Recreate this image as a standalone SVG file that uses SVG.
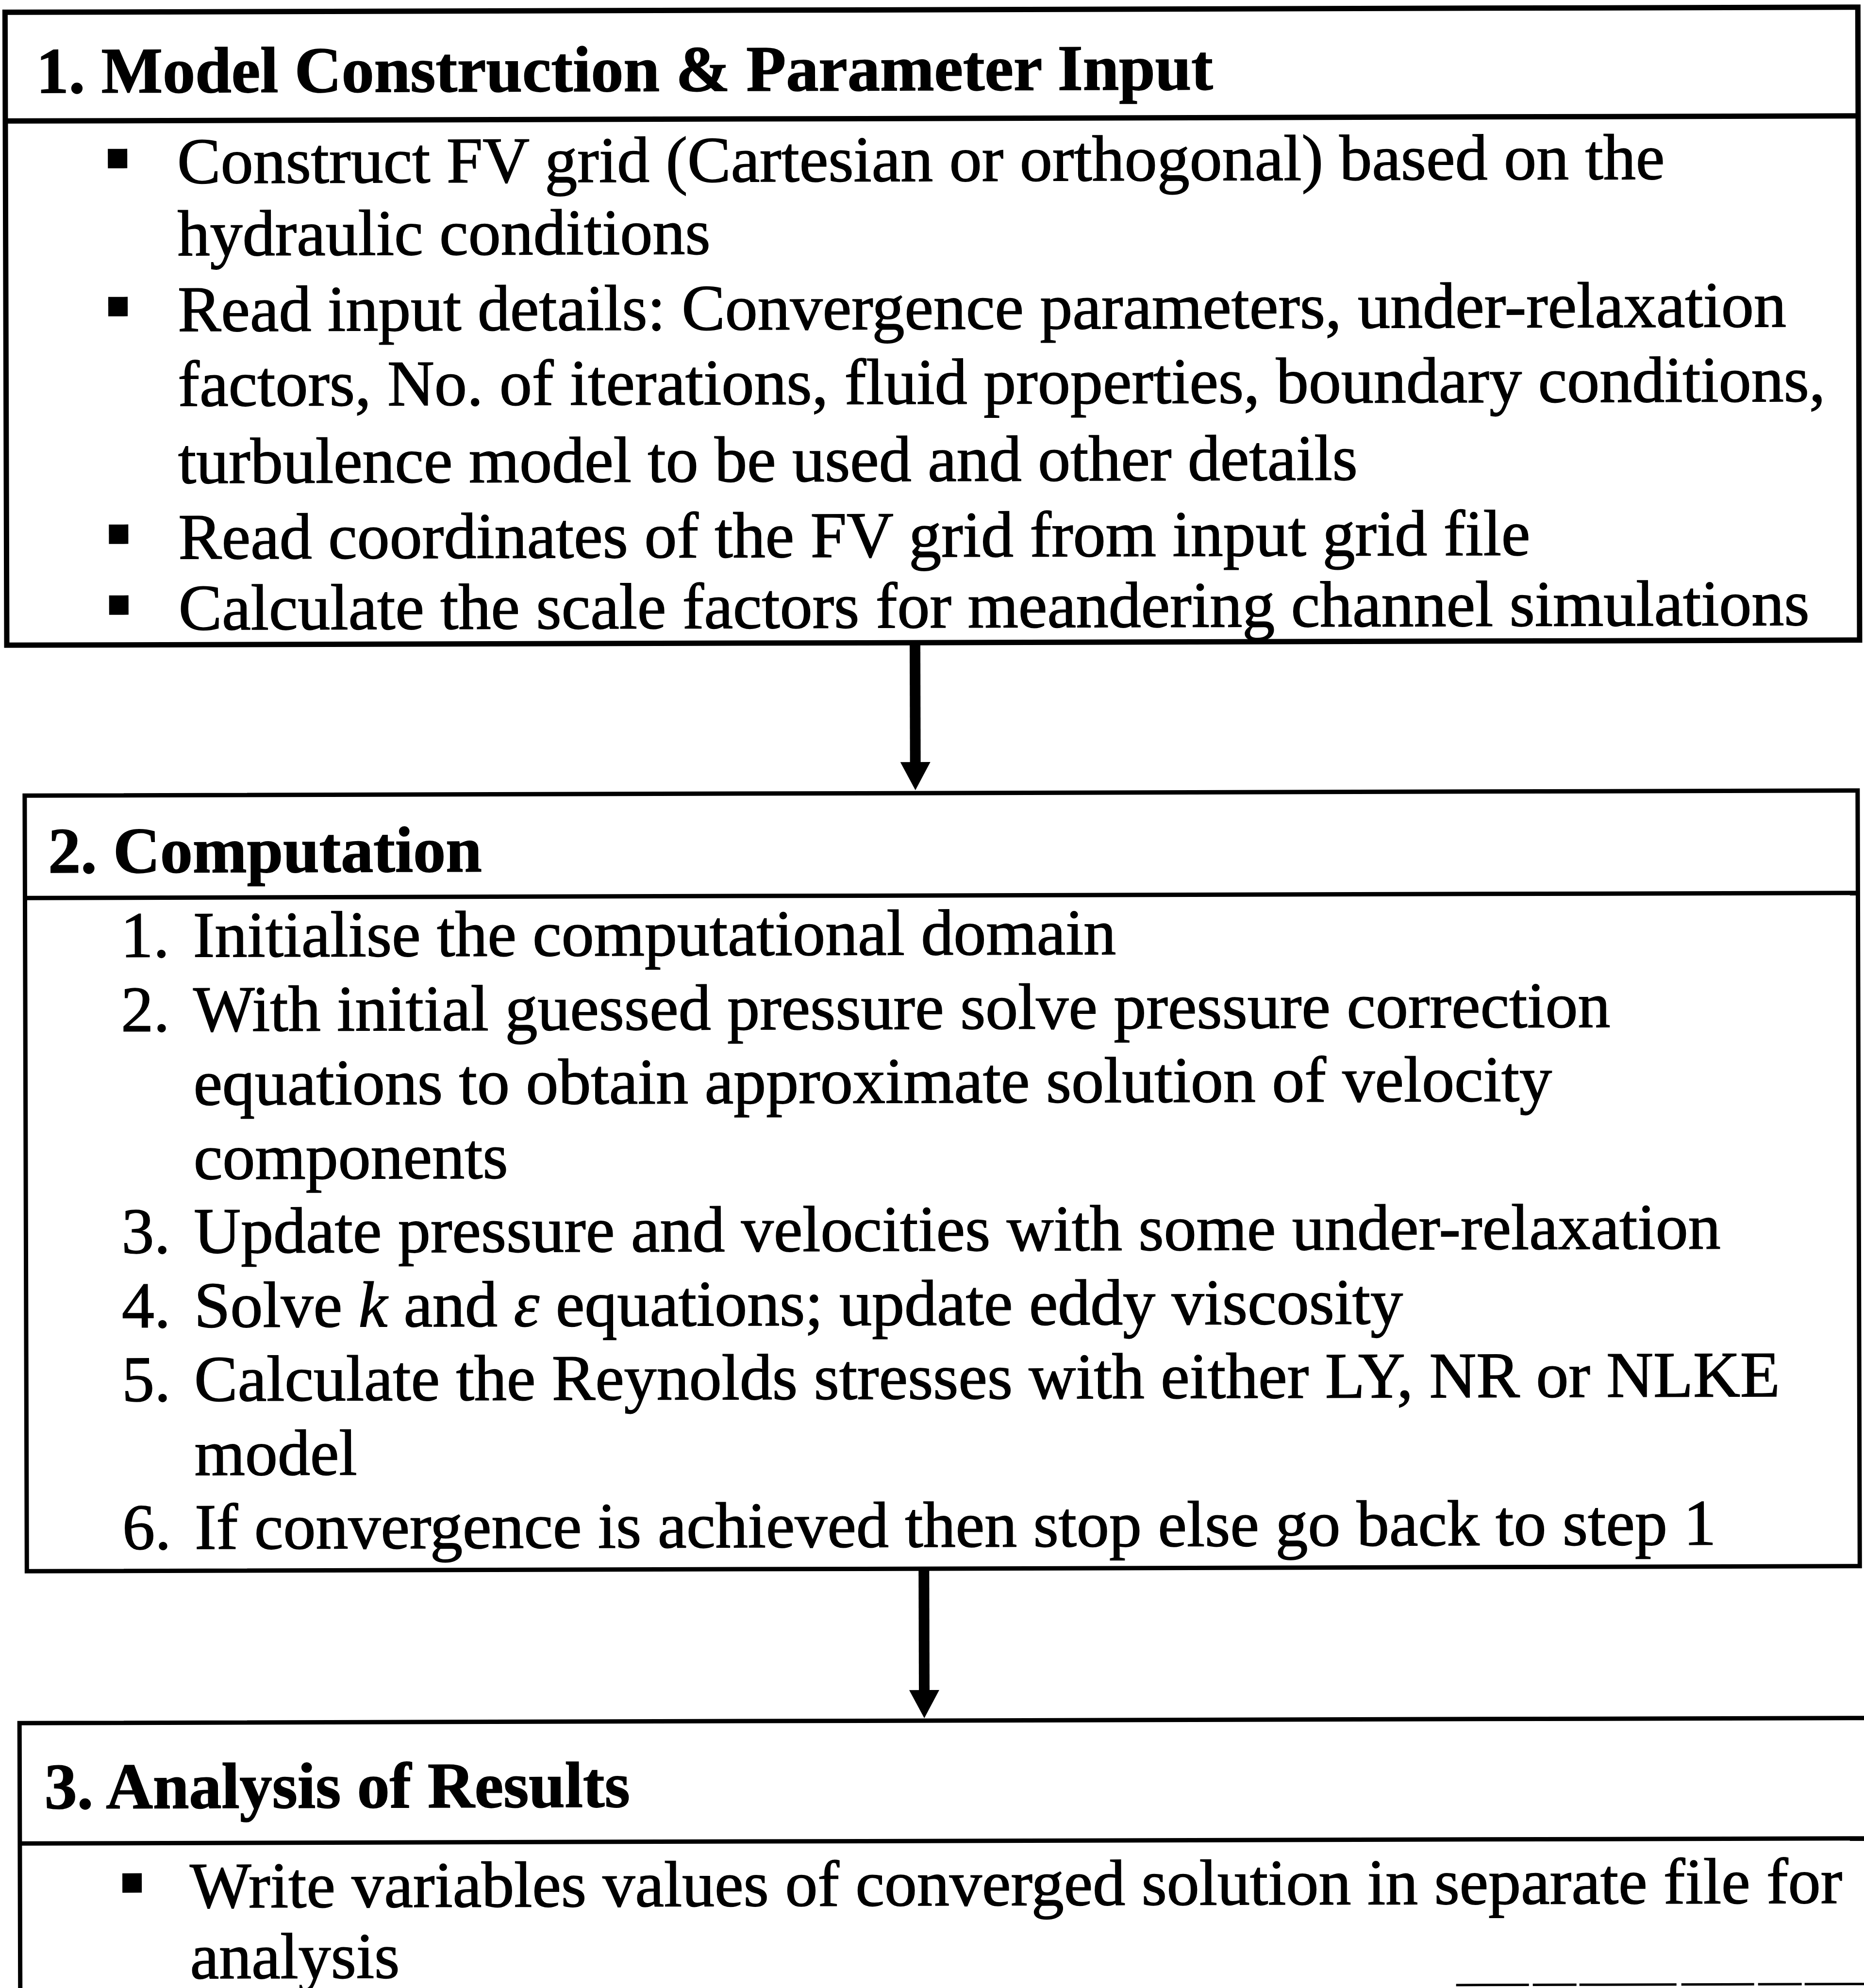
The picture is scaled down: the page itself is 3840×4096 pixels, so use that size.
<svg xmlns="http://www.w3.org/2000/svg" width="3840" height="4096" viewBox="0 0 3840 4096">
<style>
.box{fill:none;stroke:#000;stroke-linejoin:miter}
.b1{stroke-width:11}
.b2{stroke-width:9}
.t{font-family:"Liberation Serif","Times New Roman",serif;font-size:134px;fill:#000;stroke:#000;stroke-width:1.6}
.h{font-weight:bold}
.conn{stroke:#000;stroke-width:22;fill:none}
.bul{fill:#000}
</style>
<defs>
<marker id="ah" viewBox="0 0 58 62" refX="2" refY="31" markerWidth="58" markerHeight="62" markerUnits="userSpaceOnUse" orient="auto">
<path d="M0,0 L58,31 L0,62 z" fill="#000"/>
</marker>
</defs>
<rect width="3840" height="4096" fill="#fff"/>
<g transform="rotate(-0.16 1920 2048)">
<g id="node-1">
<rect class="box b1" x="16" y="20" width="3817" height="1304"/>
<line class="box b1" x1="16" y1="244" x2="3833" y2="244"/>
<text class="t h" x="80" y="186">1. Model Construction &amp; Parameter Input</text>
<rect class="bul" x="227" y="302" width="40" height="40"/>
<text class="t" x="370" y="373">Construct FV grid (Cartesian or orthogonal) based on the</text>
<text class="t" x="370" y="522">hydraulic conditions</text>
<rect class="bul" x="227" y="607" width="40" height="40"/>
<text class="t" x="370" y="678">Read input details: Convergence parameters, under-relaxation</text>
<text class="t" x="370" y="832">factors, No. of iterations, fluid properties, boundary conditions,</text>
<text class="t" x="370" y="991">turbulence model to be used and other details</text>
<rect class="bul" x="227" y="1076" width="40" height="40"/>
<text class="t" x="370" y="1147">Read coordinates of the FV grid from input grid file</text>
<rect class="bul" x="227" y="1222" width="40" height="40"/>
<text class="t" x="370" y="1293">Calculate the scale factors for meandering channel simulations</text>
</g>
<g id="node-2">
<rect class="box b2" x="52" y="1634" width="3776" height="1598"/>
<line class="box b2" x1="52" y1="1845" x2="3828" y2="1845"/>
<text class="t h" x="100" y="1793">2. Computation</text>
<text class="t" x="249" y="1967">1.</text><text class="t" x="398" y="1967">Initialise the computational domain</text>
<text class="t" x="249" y="2120">2.</text><text class="t" x="398" y="2120">With initial guessed pressure solve pressure correction</text>
<text class="t" x="398" y="2272">equations to obtain approximate solution of velocity</text>
<text class="t" x="398" y="2425">components</text>
<text class="t" x="249" y="2577">3.</text><text class="t" x="398" y="2577">Update pressure and velocities with some under-relaxation</text>
<text class="t" x="249" y="2730">4.</text><text class="t" x="398" y="2730">Solve <tspan font-style="italic">k</tspan> and <tspan font-style="italic">ε</tspan> equations; update eddy viscosity</text>
<text class="t" x="249" y="2882">5.</text><text class="t" x="398" y="2882">Calculate the Reynolds stresses with either LY, NR or NLKE</text>
<text class="t" x="398" y="3035">model</text>
<text class="t" x="249" y="3187">6.</text><text class="t" x="398" y="3187">If convergence is achieved then stop else go back to step 1</text>
</g>
<g id="node-3">
<path class="box b2" d="M3860,3545 L36,3545 L36,4120"/>
<line class="box b2" x1="36" y1="3793" x2="3860" y2="3793"/>
<text class="t h" x="87" y="3721">3. Analysis of Results</text>
<rect class="bul" x="247" y="3855" width="40" height="40"/>
<text class="t" x="386" y="3926">Write variables values of converged solution in separate file for</text>
<text class="t" x="386" y="4072">analysis</text>
</g>
<g id="connectors">
<line class="conn" x1="1887" y1="1324" x2="1887" y2="1572" marker-end="url(#ah)"/>
<line class="conn" x1="1900" y1="3232" x2="1900" y2="3484" marker-end="url(#ah)"/>
</g>
<line x1="2994" y1="4093" x2="3860" y2="4093" stroke="#000" stroke-width="5" stroke-dasharray="150 8 90 6 200 10"/>
</g>
</svg>
